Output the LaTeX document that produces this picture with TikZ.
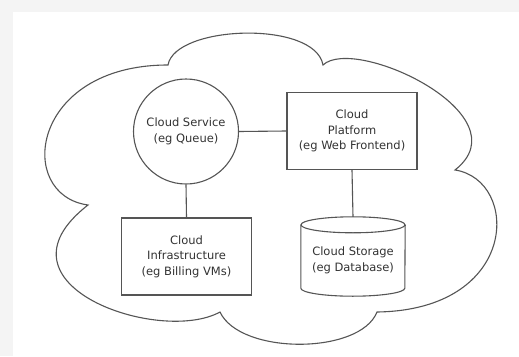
\documentclass[tikz,border=0pt]{standalone}
\usepackage{fontspec}
\setmainfont{DejaVu Sans}
\usetikzlibrary{calc}
\definecolor{lineclr}{HTML}{555555}
\definecolor{txtclr}{HTML}{333333}
\definecolor{bandclr}{HTML}{F4F4F4}
\begin{document}
\begin{tikzpicture}[x=1pt,y=-1pt,
  every node/.style={text=txtclr, font=\fontsize{11.5}{15.5}\selectfont, align=center, inner sep=0pt},
  ln/.style={draw=lineclr, line width=1.1pt},
  boxnode/.style={ln, rectangle, minimum width=130pt, minimum height=77pt},
  circnode/.style={ln, circle, minimum size=105pt},
  cylnode/.style={rectangle, minimum width=104pt, minimum height=79pt}]
\useasboundingbox (0,0) rectangle (519,356);
\fill[bandclr] (0,0) rectangle (519,356);
\fill[white] (13,12) rectangle (519,356);
% cloud
\draw[ln, line join=miter]
  (88,205) .. controls (15,195) and (30,65) .. (168,65)
  .. controls (175,25) and (315,20) .. (323,65)
  .. controls (355,35) and (525,115) .. (455,170)
  .. controls (520,180) and (520,310) .. (377,312)
  .. controls (360,355) and (240,355) .. (220,312)
  .. controls (160,345) and (-15,285) .. cycle;
% nodes
\node[circnode] (svc) at (186,131.5) {Cloud Service\\(eg Queue)};
\node[boxnode] (plat) at (352,131) {Cloud\\Platform\\(eg Web Frontend)};
\node[boxnode] (infra) at (186.5,256.5) {Cloud\\Infrastructure\\(eg Billing VMs)};
\node[cylnode] (store) at (353,256.5) {};
\draw[ln] ($(store.north west)+(0,8)$) -- ($(store.south west)+(0,-8)$)
  arc[start angle=180, end angle=360, x radius=52pt, y radius=8pt]
  -- ($(store.north east)+(0,8)$);
\draw[ln] ($(store.north)+(0,8)$) ellipse [x radius=52pt, y radius=8pt];
\node at ($(store.center)+(0,4)$) {Cloud Storage\\(eg Database)};
% connectors
\draw[ln] (svc.east) -- (plat.west);
\draw[ln] (svc.south) -- (infra.north);
\draw[ln] (plat.south) -- (store.north);
\end{tikzpicture}
\end{document}
